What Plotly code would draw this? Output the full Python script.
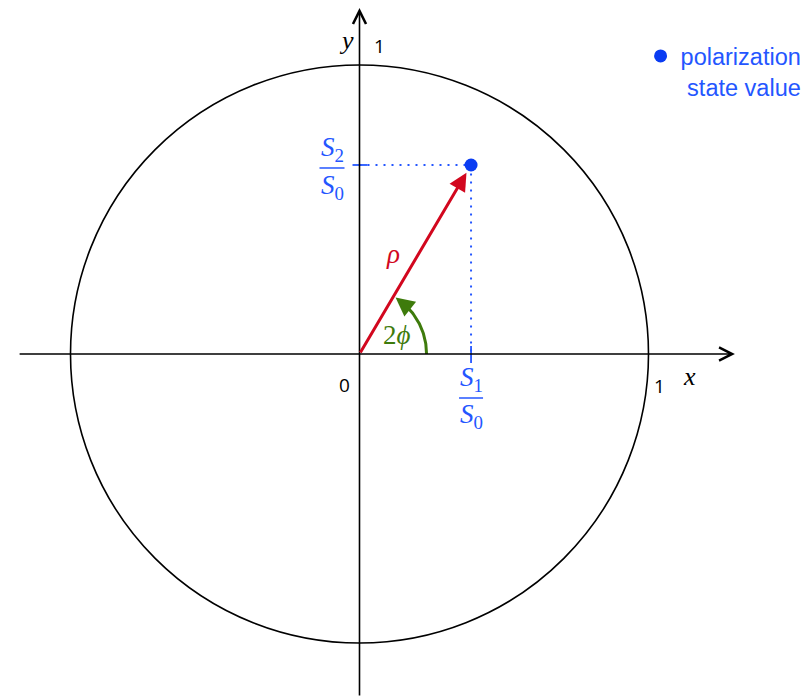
import numpy as np
import plotly.graph_objects as go

# ---- data ----
s1_over_s0 = 0.386   # x of polarization state
s2_over_s0 = 0.654   # y of polarization state
unit_radius = 1.0
two_phi_deg = float(np.degrees(np.arctan2(s2_over_s0, s1_over_s0)))
legend_name = "polarization<br>&nbsp;state value"
tick_labels = ["0", "1", "1"]

# ---- style ----
BLUE_DOT = "#0a3cf2"
BLUE_TXT = "#2456ff"
RED = "#d2071e"
GREEN = "#3e7b0c"
SERIF = "Liberation Serif"
SANS = "Open Sans"

# page body has an 8px margin, so the figure starts at (8, 8) in the window
W, H = 803, 689
R_PX = 289.0
CX, CY = 359.5 - 8, 354.0 - 8
xr = [-CX / R_PX, (W - CX) / R_PX]
yr = [-(H - CY) / R_PX, CY / R_PX]

fig = go.Figure()

# unit circle
fig.add_shape(type="circle", xref="x", yref="y",
              x0=-unit_radius, x1=unit_radius, y0=-unit_radius, y1=unit_radius,
              line=dict(color="black", width=1.6))

# dotted projection lines
fig.add_trace(go.Scatter(x=[0, s1_over_s0, s1_over_s0], y=[s2_over_s0, s2_over_s0, 0],
                         mode="lines", line=dict(color=BLUE_TXT, width=2, dash="2px,6px"),
                         showlegend=False, hoverinfo="skip"))

# blue tick marks at projections
fig.add_shape(type="line", xref="x", yref="y", xsizemode="pixel", xanchor=s1_over_s0,
              x0=0, x1=0, ysizemode="pixel", yanchor=0, y0=-9, y1=8,
              line=dict(color=BLUE_TXT, width=1.8))
fig.add_shape(type="line", xref="x", yref="y", xsizemode="pixel", xanchor=0,
              x0=-7, x1=8, ysizemode="pixel", yanchor=s2_over_s0, y0=0, y1=0,
              line=dict(color=BLUE_TXT, width=1.8))

# fraction bars
fig.add_shape(type="line", xref="x", yref="y", xsizemode="pixel", xanchor=s1_over_s0,
              x0=-12, x1=12, ysizemode="pixel", yanchor=0, y0=-44, y1=-44,
              line=dict(color=BLUE_TXT, width=1.5))
fig.add_shape(type="line", xref="x", yref="y", xsizemode="pixel", xanchor=0,
              x0=-40, x1=-15, ysizemode="pixel", yanchor=s2_over_s0, y0=-3, y1=-3,
              line=dict(color=BLUE_TXT, width=1.5))

# green angle arc
th = np.radians(np.linspace(0, two_phi_deg - 10, 60))
arc_r = 0.232
fig.add_trace(go.Scatter(x=arc_r * np.cos(th), y=arc_r * np.sin(th), mode="lines",
                         line=dict(color=GREEN, width=3), showlegend=False, hoverinfo="skip"))

# polarization state point
fig.add_trace(go.Scatter(x=[s1_over_s0], y=[s2_over_s0], mode="markers",
                         marker=dict(color=BLUE_DOT, size=13),
                         name=legend_name, showlegend=True))

annotations = []
# axes with chevron arrowheads
annotations.append(dict(x=1.299, y=0, ax=xr[0] + 0.035, ay=0, xref="x", yref="y",
                        axref="x", ayref="y", showarrow=True, arrowhead=5,
                        arrowsize=1.6, arrowwidth=1.6, arrowcolor="black", text=""))
annotations.append(dict(x=0, y=1.197, ax=0, ay=yr[0], xref="x", yref="y",
                        axref="x", ayref="y", showarrow=True, arrowhead=5,
                        arrowsize=1.6, arrowwidth=1.6, arrowcolor="black", text=""))
# rho vector
annotations.append(dict(x=s1_over_s0, y=s2_over_s0, ax=0, ay=0, xref="x", yref="y",
                        axref="x", ayref="y", showarrow=True, arrowhead=2,
                        arrowsize=1.2, arrowwidth=3, arrowcolor=RED, standoff=9, text=""))
# arc arrowhead
t_tip = np.radians(two_phi_deg - 2)
t_tail = np.radians(two_phi_deg - 14)
annotations.append(dict(x=arc_r * np.cos(t_tip), y=arc_r * np.sin(t_tip),
                        ax=arc_r * np.cos(t_tail), ay=arc_r * np.sin(t_tail),
                        xref="x", yref="y", axref="x", ayref="y", showarrow=True,
                        arrowhead=2, arrowsize=1.25, arrowwidth=3, arrowcolor=GREEN, text=""))

def txt(x, y, s, color, size, family, xs=0, ys=0):
    return dict(x=x, y=y, text=s, showarrow=False, xref="x", yref="y",
                xshift=xs, yshift=ys, font=dict(color=color, size=size, family=family))

annotations += [
    txt(0, 0, tick_labels[0], "black", 19, SANS, xs=-15, ys=-31),
    txt(unit_radius, 0, tick_labels[1], "black", 19, SANS, xs=11, ys=-32),
    txt(0, unit_radius, tick_labels[2], "black", 19, SANS, xs=20, ys=19),
    txt(unit_radius, 0, "<i>x</i>", "black", 26, SERIF, xs=41, ys=-22),
    txt(0, unit_radius, "<i>y</i>", "black", 26, SERIF, xs=-13, ys=25),
    txt(0.115, 0.345, "<i>ρ</i>", RED, 27, SERIF),
    txt(0.13, 0.066, "2<i>ϕ</i>", GREEN, 27, SERIF),
    txt(s1_over_s0, 0, "<i>S</i><sub>1</sub>", BLUE_TXT, 27, SERIF, xs=0, ys=-25),
    txt(s1_over_s0, 0, "<i>S</i><sub>0</sub>", BLUE_TXT, 27, SERIF, xs=0, ys=-62),
    txt(0, s2_over_s0, "<i>S</i><sub>2</sub>", BLUE_TXT, 27, SERIF, xs=-27, ys=16),
    txt(0, s2_over_s0, "<i>S</i><sub>0</sub>", BLUE_TXT, 27, SERIF, xs=-27, ys=-22),
]

fig.update_layout(
    width=W, height=H, margin=dict(l=0, r=0, t=0, b=0),
    paper_bgcolor="white", plot_bgcolor="white",
    xaxis=dict(range=xr, visible=False, fixedrange=True),
    yaxis=dict(range=yr, visible=False, fixedrange=True),
    annotations=annotations,
    legend=dict(x=0.9945, xanchor="right", y=0.962, yanchor="top", valign="top",
                font=dict(family="Liberation Sans", size=23.5, color=BLUE_TXT),
                bgcolor="rgba(0,0,0,0)", itemwidth=30),
    showlegend=True,
)

fig.write_html("out.html")
